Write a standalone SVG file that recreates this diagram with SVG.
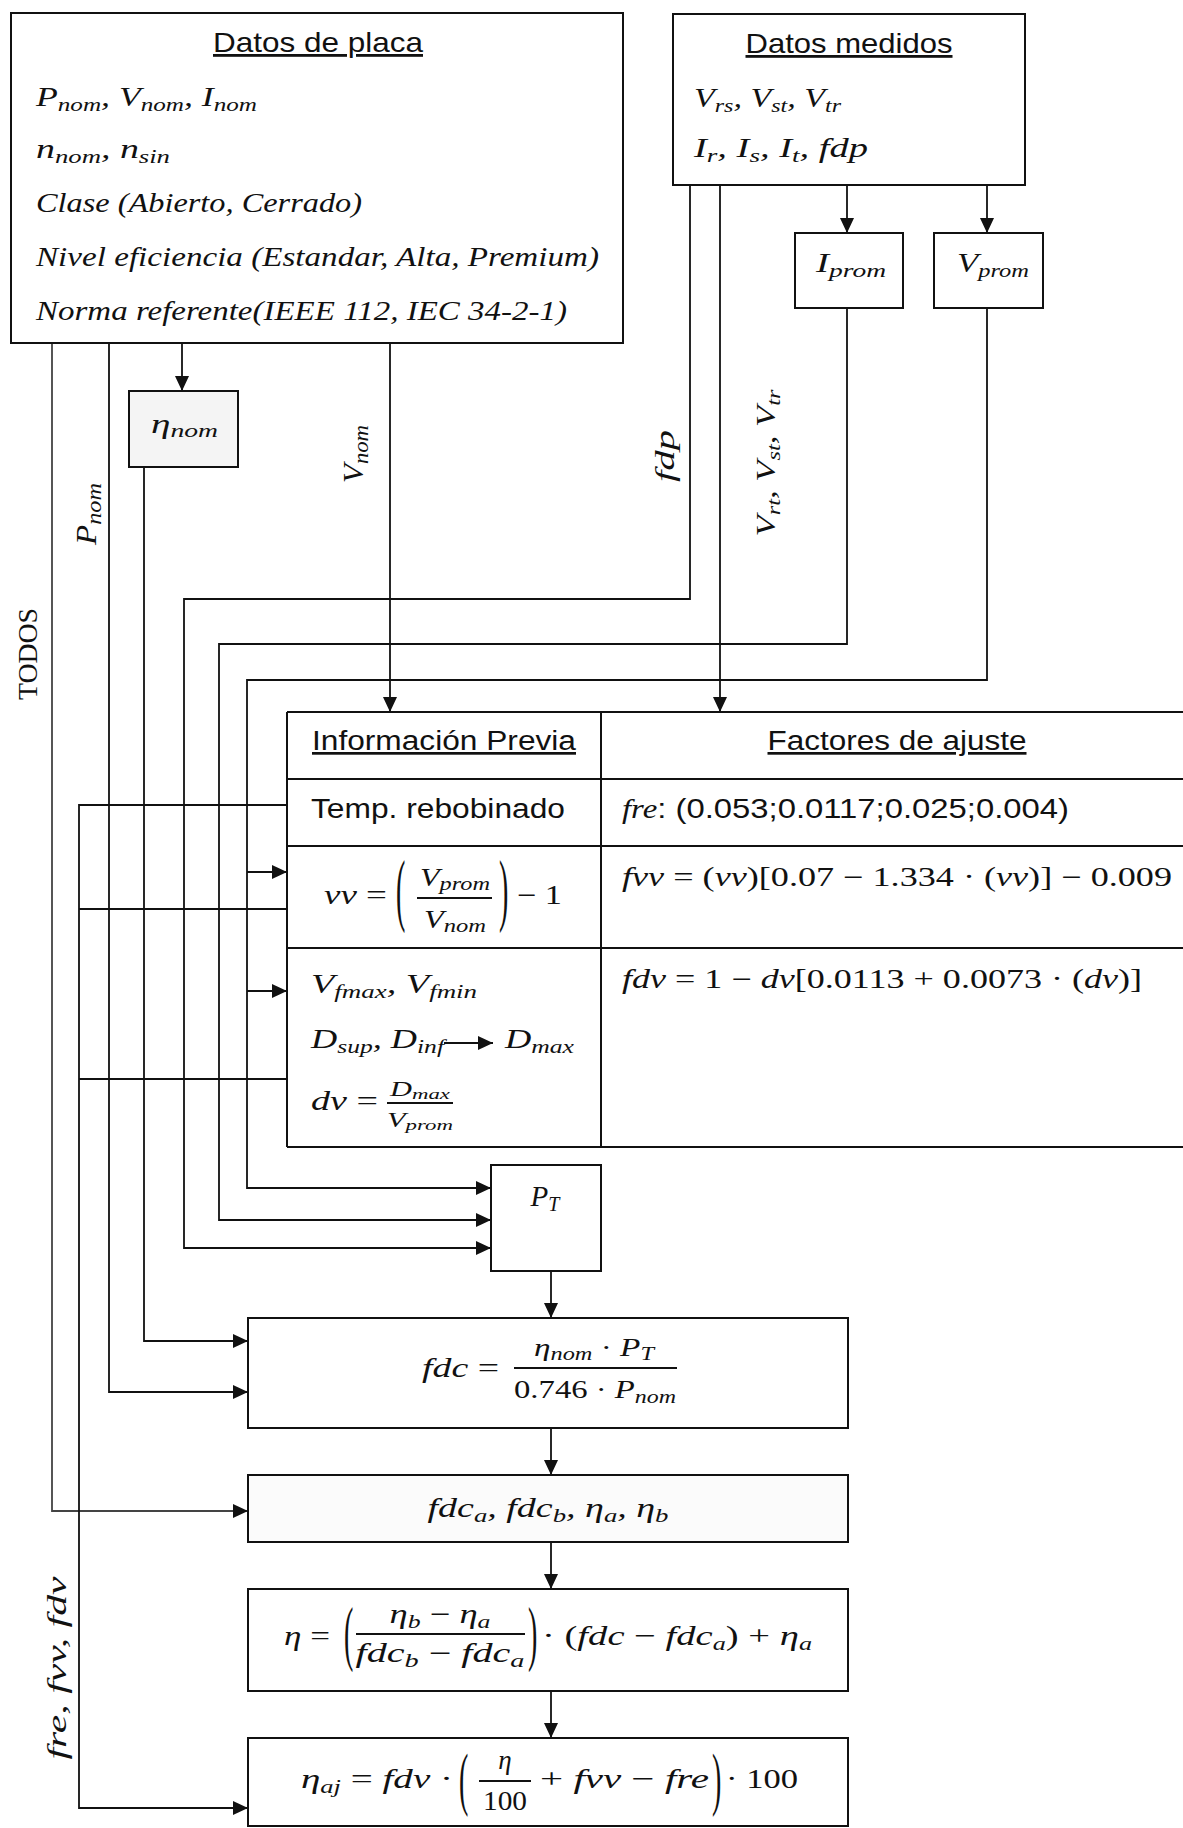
<svg xmlns="http://www.w3.org/2000/svg" width="1183" height="1828" viewBox="0 0 1183 1828">
<style>
.box{fill:#fff;stroke:#111;stroke-width:2}
.ln{fill:none;stroke:#111;stroke-width:1.8}
.arr{marker-end:url(#ah)}
.sans{font-family:"Liberation Sans",Arial,sans-serif;fill:#111}
.m{font-family:"Liberation Serif","Times New Roman",serif;font-style:italic;fill:#111}
.rm{font-style:normal}
.s{font-size:19px}
.ul{text-decoration:underline}
</style>
<defs>
<marker id="ah" viewBox="0 0 15 14" refX="15" refY="7" markerWidth="15" markerHeight="14" markerUnits="userSpaceOnUse" orient="auto">
<path d="M0,0 L15,7 L0,14 z" fill="#111"/>
</marker>
</defs>
<rect width="1183" height="1828" fill="#fff"/>

<g id="connectors">
<path class="ln" d="M52,343 V1511 H248" style="stroke:#444" marker-end="url(#ah)"/>
<path class="ln arr" d="M109,343 V1392 H248"/>
<path class="ln arr" d="M182,343 V391"/>
<path class="ln arr" d="M144,467 V1341 H248"/>
<path class="ln arr" d="M390,343 V712"/>
<path class="ln arr" d="M690,185 V599 H184 V1248 H491"/>
<path class="ln arr" d="M720,185 V712"/>
<path class="ln arr" d="M847,185 V233"/>
<path class="ln arr" d="M987,185 V233"/>
<path class="ln arr" d="M847,308 V644 H219 V1220 H491"/>
<path class="ln arr" d="M987,308 V680 H247 V1188 H491"/>
<path class="ln arr" d="M247,872 H287"/>
<path class="ln arr" d="M247,991 H287"/>
<path class="ln arr" d="M287,805 H79 V1808 H248"/>
<path class="ln" d="M287,909 H79"/>
<path class="ln" d="M287,1079 H79"/>
<path class="ln arr" d="M551,1271 V1318"/>
<path class="ln arr" d="M551,1428 V1475"/>
<path class="ln arr" d="M551,1542 V1589"/>
<path class="ln arr" d="M551,1691 V1738"/>
<text transform="translate(37,654) rotate(-90)" style="font-family:'Liberation Serif','Times New Roman',serif;fill:#111" font-size="27" text-anchor="middle" textLength="92" lengthAdjust="spacingAndGlyphs">TODOS</text>
<text class="m" transform="translate(96,514) rotate(-90)" font-size="30" text-anchor="middle" textLength="62" lengthAdjust="spacingAndGlyphs">P<tspan font-size="22" dy="5">nom</tspan></text>
<text class="m" transform="translate(363,454) rotate(-90)" font-size="30" text-anchor="middle" textLength="58" lengthAdjust="spacingAndGlyphs">V<tspan font-size="22" dy="5">nom</tspan></text>
<text class="m" transform="translate(674,456) rotate(-90)" font-size="27" text-anchor="middle" textLength="52" lengthAdjust="spacingAndGlyphs">fdp</text>
<text class="m" transform="translate(775,463) rotate(-90)" font-size="27" text-anchor="middle" textLength="147" lengthAdjust="spacingAndGlyphs">V<tspan class="s" dy="5">rt</tspan><tspan dy="-5">, V</tspan><tspan class="s" dy="5">st</tspan><tspan dy="-5">, V</tspan><tspan class="s" dy="5">tr</tspan></text>
<text class="m" transform="translate(66,1668) rotate(-90)" font-size="28" text-anchor="middle" textLength="183" lengthAdjust="spacingAndGlyphs">fre, fvv, fdv</text>
</g>

<g id="datos-placa">
<rect class="box" x="11" y="13" width="612" height="330"/>
<text class="sans ul" x="318" y="52" font-size="28" text-anchor="middle" textLength="210" lengthAdjust="spacingAndGlyphs">Datos de placa</text>
<text class="m" x="36" y="106" font-size="27" textLength="221" lengthAdjust="spacingAndGlyphs">P<tspan class="s" dy="5">nom</tspan><tspan dy="-5">, V</tspan><tspan class="s" dy="5">nom</tspan><tspan dy="-5">, I</tspan><tspan class="s" dy="5">nom</tspan></text>
<text class="m" x="36" y="158" font-size="27" textLength="134" lengthAdjust="spacingAndGlyphs">n<tspan class="s" dy="5">nom</tspan><tspan dy="-5">, n</tspan><tspan class="s" dy="5">sin</tspan></text>
<text class="m" x="36" y="212" font-size="27" textLength="326" lengthAdjust="spacingAndGlyphs">Clase (Abierto, Cerrado)</text>
<text class="m" x="36" y="266" font-size="27" textLength="563" lengthAdjust="spacingAndGlyphs">Nivel eficiencia (Estandar, Alta, Premium)</text>
<text class="m" x="36" y="320" font-size="27" textLength="531" lengthAdjust="spacingAndGlyphs">Norma referente(IEEE 112, IEC 34-2-1)</text>
</g>

<g id="datos-medidos">
<rect class="box" x="673" y="14" width="352" height="171"/>
<text class="sans ul" x="849" y="53" font-size="28" text-anchor="middle" textLength="207" lengthAdjust="spacingAndGlyphs">Datos medidos</text>
<text class="m" x="694" y="107" font-size="27" textLength="147" lengthAdjust="spacingAndGlyphs">V<tspan class="s" dy="5">rs</tspan><tspan dy="-5">, V</tspan><tspan class="s" dy="5">st</tspan><tspan dy="-5">, V</tspan><tspan class="s" dy="5">tr</tspan></text>
<text class="m" x="694" y="157" font-size="27" textLength="174" lengthAdjust="spacingAndGlyphs">I<tspan class="s" dy="5">r</tspan><tspan dy="-5">, I</tspan><tspan class="s" dy="5">s</tspan><tspan dy="-5">, I</tspan><tspan class="s" dy="5">t</tspan><tspan dy="-5">, fdp</tspan></text>
</g>

<g id="iprom">
<rect class="box" x="795" y="233" width="108" height="75"/>
<text class="m" x="816" y="272" font-size="27" textLength="70" lengthAdjust="spacingAndGlyphs">I<tspan class="s" dy="5">prom</tspan></text>
</g>

<g id="vprom">
<rect class="box" x="934" y="233" width="109" height="75"/>
<text class="m" x="957" y="272" font-size="27" textLength="72" lengthAdjust="spacingAndGlyphs">V<tspan class="s" dy="5">prom</tspan></text>
</g>

<g id="eta-nom">
<rect class="box" x="129" y="391" width="109" height="76" style="fill:#f4f4f4"/>
<text class="m" x="151" y="433" font-size="27" textLength="67" lengthAdjust="spacingAndGlyphs">η<tspan class="s" dy="4">nom</tspan></text>
</g>

<g id="tabla">
<path class="ln" style="stroke-width:2" d="M287,712 H1183 M287,779 H1183 M287,846 H1183 M287,948 H1183 M287,1147 H1183 M287,712 V1147 M601,712 V1147"/>
<text class="sans ul" x="444" y="750" font-size="27" text-anchor="middle" textLength="264" lengthAdjust="spacingAndGlyphs">Información Previa</text>
<text class="sans ul" x="897" y="750" font-size="27" text-anchor="middle" textLength="259" lengthAdjust="spacingAndGlyphs">Factores de ajuste</text>
<text class="sans" x="311" y="818" font-size="27" textLength="254" lengthAdjust="spacingAndGlyphs">Temp. rebobinado</text>
<text class="sans" x="622" y="818" font-size="27" textLength="447" lengthAdjust="spacingAndGlyphs"><tspan class="m">fre</tspan>: (0.053;0.0117;0.025;0.004)</text>
<text class="m" x="324" y="904" font-size="27" textLength="63" lengthAdjust="spacingAndGlyphs">vv <tspan class="rm">=</tspan></text>
<text class="m rm" transform="translate(396,916) scale(1,2.9)" font-size="28">(</text>
<text class="m" x="455" y="886" font-size="25" text-anchor="middle" textLength="70" lengthAdjust="spacingAndGlyphs">V<tspan class="s" dy="4">prom</tspan></text>
<line class="ln" x1="417" y1="898" x2="492" y2="898"/>
<text class="m" x="455" y="928" font-size="25" text-anchor="middle" textLength="62" lengthAdjust="spacingAndGlyphs">V<tspan class="s" dy="4">nom</tspan></text>
<text class="m rm" transform="translate(499,916) scale(1,2.9)" font-size="28">)</text>
<text class="m rm" x="517" y="904" font-size="27" textLength="45" lengthAdjust="spacingAndGlyphs">− 1</text>
<text class="m rm" x="622" y="886" font-size="27" textLength="550" lengthAdjust="spacingAndGlyphs"><tspan class="m">fvv</tspan> = (<tspan class="m">vv</tspan>)[0.07 − 1.334 · (<tspan class="m">vv</tspan>)] − 0.009</text>
<text class="m" x="311" y="993" font-size="27" textLength="166" lengthAdjust="spacingAndGlyphs">V<tspan class="s" dy="5">fmax</tspan><tspan dy="-5">, V</tspan><tspan class="s" dy="5">fmin</tspan></text>
<text class="m" x="311" y="1048" font-size="27" textLength="133" lengthAdjust="spacingAndGlyphs">D<tspan class="s" dy="5">sup</tspan><tspan dy="-5">, D</tspan><tspan class="s" dy="5">inf</tspan></text>
<line class="ln arr" x1="444" y1="1043" x2="493" y2="1043"/>
<text class="m" x="505" y="1048" font-size="27" textLength="69" lengthAdjust="spacingAndGlyphs">D<tspan class="s" dy="5">max</tspan></text>
<text class="m" x="311" y="1110" font-size="27" textLength="67" lengthAdjust="spacingAndGlyphs">dv <tspan class="rm">=</tspan></text>
<text class="m" x="420" y="1096" font-size="20" text-anchor="middle" textLength="60" lengthAdjust="spacingAndGlyphs">D<tspan font-size="15" dy="3">max</tspan></text>
<line class="ln" x1="387" y1="1103" x2="453" y2="1103"/>
<text class="m" x="420" y="1127" font-size="20" text-anchor="middle" textLength="66" lengthAdjust="spacingAndGlyphs">V<tspan font-size="15" dy="3">prom</tspan></text>
<text class="m rm" x="622" y="988" font-size="27" textLength="520" lengthAdjust="spacingAndGlyphs"><tspan class="m">fdv</tspan> = 1 − <tspan class="m">dv</tspan>[0.0113 + 0.0073 · (<tspan class="m">dv</tspan>)]</text>
</g>

<g id="pt">
<rect class="box" x="491" y="1165" width="110" height="106"/>
<text class="m" x="545" y="1206" font-size="29" text-anchor="middle">P<tspan font-size="20" dy="5">T</tspan></text>
</g>

<g id="fdc">
<rect class="box" x="248" y="1318" width="600" height="110"/>
<text class="m" x="422" y="1377" font-size="28" textLength="77" lengthAdjust="spacingAndGlyphs">fdc <tspan class="rm">=</tspan></text>
<text class="m" x="594" y="1356" font-size="26" text-anchor="middle" textLength="120" lengthAdjust="spacingAndGlyphs">η<tspan class="s" dy="4">nom</tspan><tspan class="rm" dy="-4"> · </tspan>P<tspan class="s" dy="4">T</tspan></text>
<line class="ln" x1="514" y1="1368" x2="677" y2="1368"/>
<text class="m rm" x="595" y="1398" font-size="26" text-anchor="middle" textLength="162" lengthAdjust="spacingAndGlyphs">0.746 · <tspan class="m">P</tspan><tspan class="m s" dy="5">nom</tspan></text>
</g>

<g id="fdc-ab">
<rect class="box" x="248" y="1475" width="600" height="67" style="fill:#fbfbfb"/>
<text class="m" x="548" y="1517" font-size="27" text-anchor="middle" textLength="241" lengthAdjust="spacingAndGlyphs">fdc<tspan class="s" dy="5">a</tspan><tspan dy="-5">, fdc</tspan><tspan class="s" dy="5">b</tspan><tspan dy="-5">, η</tspan><tspan class="s" dy="5">a</tspan><tspan dy="-5">, η</tspan><tspan class="s" dy="5">b</tspan></text>
</g>

<g id="eta">
<rect class="box" x="248" y="1589" width="600" height="102"/>
<text class="m" x="284" y="1645" font-size="28" textLength="46" lengthAdjust="spacingAndGlyphs">η <tspan class="rm">=</tspan></text>
<text class="m rm" transform="translate(344,1657) scale(1,2.6)" font-size="28">(</text>
<text class="m" x="440" y="1623" font-size="27" text-anchor="middle" textLength="101" lengthAdjust="spacingAndGlyphs">η<tspan class="s" dy="5">b</tspan><tspan class="rm" dy="-5"> − </tspan>η<tspan class="s" dy="5">a</tspan></text>
<line class="ln" x1="356" y1="1634" x2="525" y2="1634"/>
<text class="m" x="440" y="1662" font-size="27" text-anchor="middle" textLength="169" lengthAdjust="spacingAndGlyphs">fdc<tspan class="s" dy="5">b</tspan><tspan class="rm" dy="-5"> − </tspan>fdc<tspan class="s" dy="5">a</tspan></text>
<text class="m rm" transform="translate(528,1657) scale(1,2.6)" font-size="28">)</text>
<text class="m" x="542" y="1645" font-size="28" textLength="270" lengthAdjust="spacingAndGlyphs"><tspan class="rm">· (</tspan>fdc<tspan class="rm"> − </tspan>fdc<tspan class="s" dy="5">a</tspan><tspan class="rm" dy="-5">) + </tspan>η<tspan class="s" dy="5">a</tspan></text>
</g>

<g id="eta-aj">
<rect class="box" x="248" y="1738" width="600" height="88"/>
<text class="m" x="301" y="1788" font-size="28" textLength="152" lengthAdjust="spacingAndGlyphs">η<tspan class="s" dy="5">aj</tspan><tspan class="rm" dy="-5"> = </tspan>fdv<tspan class="rm"> ·</tspan></text>
<text class="m rm" transform="translate(459,1802) scale(1,2.5)" font-size="28">(</text>
<text class="m" x="505" y="1769" font-size="27" text-anchor="middle">η</text>
<line class="ln" x1="479" y1="1781" x2="531" y2="1781"/>
<text class="m rm" x="505" y="1810" font-size="27" text-anchor="middle" textLength="44" lengthAdjust="spacingAndGlyphs">100</text>
<text class="m" x="540" y="1788" font-size="28" textLength="169" lengthAdjust="spacingAndGlyphs"><tspan class="rm">+ </tspan>fvv<tspan class="rm"> − </tspan>fre</text>
<text class="m rm" transform="translate(712,1802) scale(1,2.5)" font-size="28">)</text>
<text class="m rm" x="726" y="1788" font-size="28" textLength="72" lengthAdjust="spacingAndGlyphs">· 100</text>
</g>
</svg>
